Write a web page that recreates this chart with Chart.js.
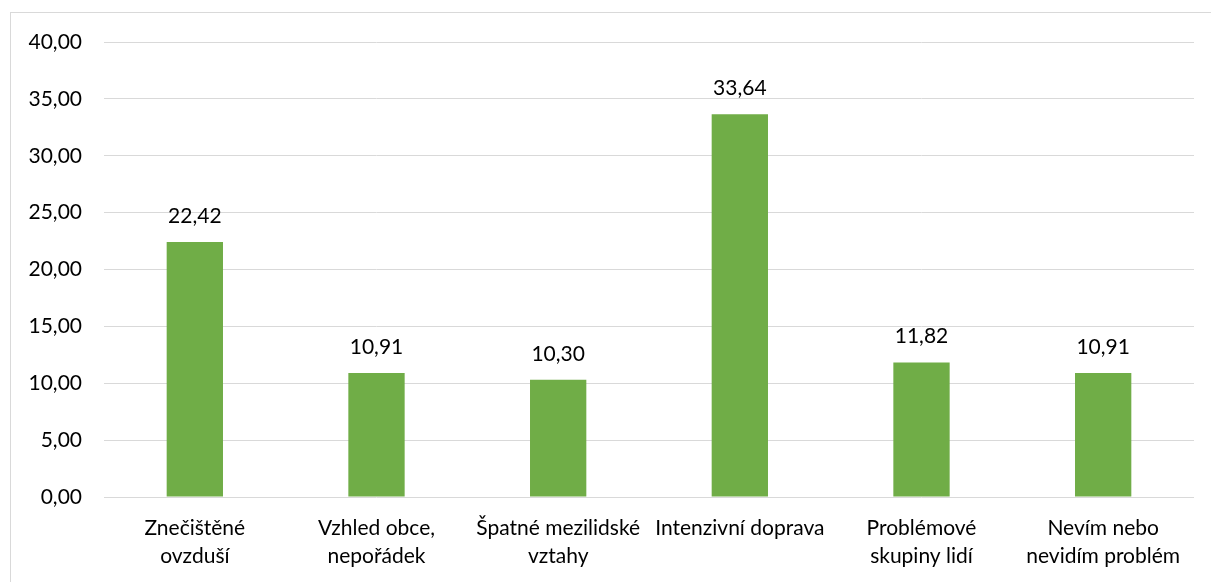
<!DOCTYPE html>
<html>
<head>
<meta charset="utf-8">
<script src="https://cdn.jsdelivr.net/npm/chart.js@4"></script>
<style>
  html, body { margin: 0; padding: 0; background: #fff; width: 1211px; height: 582px; overflow: hidden; }
  #wrap { position: absolute; left: 10px; top: 12px; width: 1203px; height: 572px; border: 1px solid #D9D9D9; box-sizing: border-box; }
  #c { position: absolute; left: 0; top: 0; }
</style>
</head>
<body>
<div id="wrap"><canvas id="c" width="1201" height="570"></canvas></div>
<script>
const categories = [
  ["Znečištěné", "ovzduší"],
  ["Vzhled obce,", "nepořádek"],
  ["Špatné mezilidské", "vztahy"],
  "Intenzivní doprava",
  ["Problémové", "skupiny lidí"],
  ["Nevím nebo", "nevidím problém"]
];
const values = [22.42, 10.91, 10.30, 33.64, 11.82, 10.91];
const yTicks = [0, 5, 10, 15, 20, 25, 30, 35, 40];

const fmt = v => Number(v).toFixed(2).replace('.', ',');
const FONT = "Lato, 'Open Sans', sans-serif";

const valueLabels = {
  id: 'valueLabels',
  afterDatasetsDraw(chart) {
    const ctx = chart.ctx;
    const meta = chart.getDatasetMeta(0);
    ctx.save();
    ctx.font = "21px " + FONT;
    ctx.fillStyle = '#000';
    ctx.textAlign = 'center';
    ctx.textBaseline = 'middle';
    meta.data.forEach((bar, i) => {
      ctx.fillText(fmt(values[i]), bar.x, bar.y - 26);
    });
    ctx.restore();
  }
};

new Chart(document.getElementById('c'), {
  type: 'bar',
  data: {
    labels: categories,
    datasets: [{
      data: values,
      backgroundColor: '#70AD47',
      borderWidth: 0,
      barPercentage: 1,
      categoryPercentage: 0.31
    }]
  },
  options: {
    responsive: false,
    animation: false,
    devicePixelRatio: 1,
    layout: { padding: { top: 29, right: 18, left: 0, bottom: 0 } },
    plugins: { legend: { display: false }, tooltip: { enabled: false } },
    scales: {
      x: {
        grid: { display: false },
        border: { display: false },
        ticks: {
          color: '#000',
          font: { family: FONT, size: 21, lineHeight: 1.3 },
          padding: 10,
          maxRotation: 0,
          autoSkip: false
        },
        afterFit(s) { s.height = 86; s.paddingLeft = 0; s.paddingRight = 0; }
      },
      y: {
        min: 0, max: 40,
        afterBuildTicks(s) { s.ticks = yTicks.map(v => ({ value: v })); },
        grid: { color: '#D9D9D9', lineWidth: 1, drawTicks: false },
        border: { display: false },
        ticks: {
          color: '#000',
          font: { family: FONT, size: 21 },
          padding: 22,
          callback: v => fmt(v)
        },
        afterFit(s) { s.width = 93; s.paddingTop = 0; s.paddingBottom = 0; }
      }
    }
  },
  plugins: [valueLabels]
});
</script>
</body>
</html>
